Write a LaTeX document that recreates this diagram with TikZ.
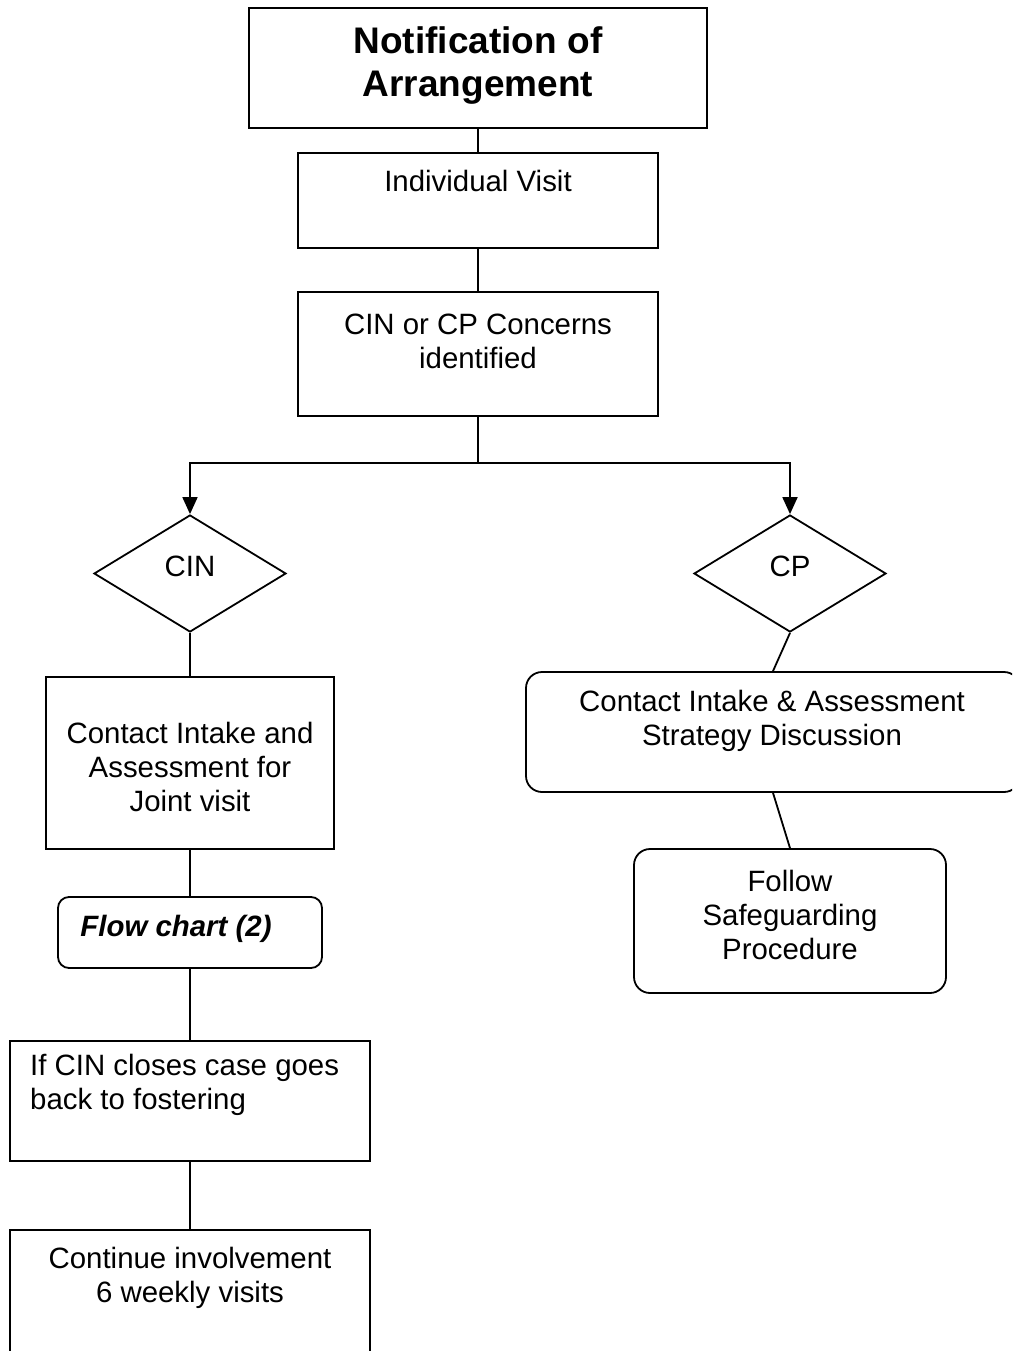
\documentclass[tikz,border=0pt]{standalone}
\usepackage{fontspec}
\setmainfont{Liberation Sans}
\usetikzlibrary{shapes.geometric,arrows.meta}
\begin{document}
\begin{tikzpicture}[x=1pt,y=-1pt,
  box/.style={draw,line width=1.8pt,inner sep=0pt,minimum width=#1},
  rbox/.style={draw,line width=1.8pt,inner sep=0pt,rounded corners=16pt,minimum width=#1},
  dia/.style={draw,line width=1.8pt,diamond,inner sep=0pt,minimum width=192pt,minimum height=117pt,shape aspect=1.64},
  txt/.style={inner sep=0pt,align=center,font=\fontsize{29.4}{34}\selectfont},
  conn/.style={line width=1.8pt},
  arr/.style={line width=1.8pt,-{Triangle[length=17pt,width=15pt]}}]
\useasboundingbox (0,0) rectangle (1012,1351);
\clip (0,0) rectangle (1012,1351);
% boxes
\node[box=458pt,minimum height=120pt] (b1) at (478,68) {};
\node[box=360pt,minimum height=95pt] (b2) at (478,200.5) {};
\node[box=360pt,minimum height=124pt] (b3) at (478,354) {};
\node[dia] (cin) at (190,573.5) {};
\node[dia] (cp) at (790,573.5) {};
\node[box=288pt,minimum height=172pt] (b4) at (190,763) {};
\node[rbox=264pt,minimum height=71pt,rounded corners=11pt] (fc) at (190,932.5) {};
\node[box=360pt,minimum height=120pt] (b5) at (190,1101) {};
\node[box=360pt,minimum height=170pt] (b6) at (190,1315) {};
\node[rbox=494pt,minimum height=120pt] (cpb) at (773,732) {};
\node[rbox=312pt,minimum height=144pt] (fol) at (790,921) {};
% texts
\node[txt,font=\fontsize{37}{43}\selectfont\bfseries] (t1) at (478,66) {Notification of\\Arrangement};
\node[txt] (t2) at (478,181) {Individual Visit};
\node[txt] (t3) at (478,341) {CIN or CP Concerns\\identified};
\node[txt] (tcin) at (190,566) {CIN};
\node[txt] (tcp) at (790,566) {CP};
\node[txt] (t4) at (190,767) {Contact Intake and\\Assessment for\\Joint visit};
\node[txt,font=\fontsize{29.4}{34}\selectfont\bfseries\itshape] (tfc) at (176,929) {Flow chart (2)};
\node[txt,align=left,anchor=west] (t5) at (30,1085) {If CIN closes case goes\\back to fostering};
\node[txt] (t6) at (190,1278) {Continue involvement\\6 weekly visits};
\node[txt] (tcpb) at (772,721) {Contact Intake \& Assessment\\Strategy Discussion};
\node[txt] (tfol) at (790,915) {Follow\\Safeguarding\\Procedure};
% connectors
\coordinate (br) at (478,463);
\draw[conn] (b1.south) -- (b2.north);
\draw[conn] (b2.south) -- (b3.north);
\draw[conn] (b3.south) -- (br);
\draw[arr] (br) -| (cin.north);
\draw[arr] (br) -| (cp.north);
\draw[conn] (cin.south) -- (b4.north);
\draw[conn] (b4.south) -- (fc.north);
\draw[conn] (fc.south) -- (b5.north);
\draw[conn] (b5.south) -- (b6.north);
\draw[conn] (cp.south) -- (cpb.north);
\draw[conn] (cpb.south) -- (fol.north);
\end{tikzpicture}
\end{document}
